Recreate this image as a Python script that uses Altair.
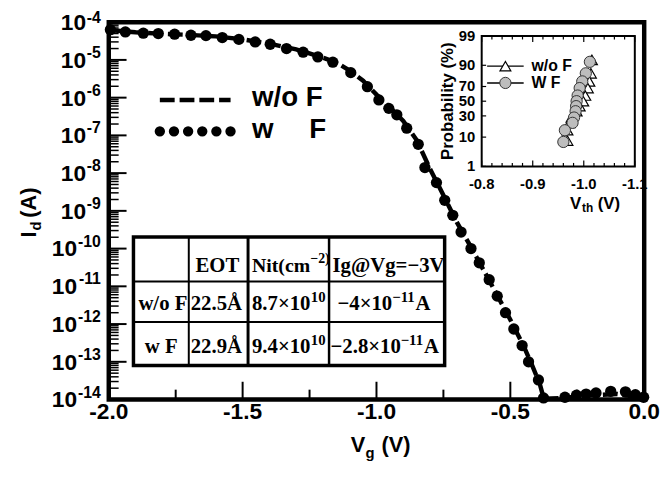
import altair as alt
import pandas as pd
from statistics import NormalDist

# ---------------- main Id-Vg data ----------------
vg_wF = [-1.994, -1.938, -1.871, -1.815, -1.754, -1.693, -1.637, -1.576, -1.514, -1.453,
         -1.397, -1.336, -1.274, -1.219, -1.163, -1.096, -1.034, -0.991, -0.954, -0.924,
         -0.887, -0.844, -0.819, -0.776, -0.745, -0.715, -0.684, -0.647, -0.616, -0.579,
         -0.549, -0.518, -0.487, -0.456, -0.432, -0.395, -0.376, -0.296, -0.253, -0.217,
         -0.180, -0.125, -0.070, -0.033, -0.002]
id_wF = [6.3e-5, 5.5e-5, 5.1e-5, 5.0e-5, 4.8e-5, 4.5e-5, 4.4e-5, 3.9e-5, 3.5e-5, 3.0e-5,
         2.6e-5, 2.0e-5, 1.6e-5, 1.2e-5, 8.7e-6, 4.6e-6, 1.95e-6, 8.7e-7, 5.2e-7, 3.5e-7,
         1.55e-7, 5.8e-8, 1.4e-8, 5.6e-9, 1.9e-9, 7.6e-10, 2.75e-10, 1.0e-10, 4.2e-11, 1.5e-11,
         5.5e-12, 2.0e-12, 7.4e-13, 2.7e-13, 1.0e-13, 3.3e-14, 1.1e-14, 1.15e-14, 1.3e-14, 1.4e-14,
         1.5e-14, 1.65e-14, 1.6e-14, 1.35e-14, 1.15e-14]

vg_woF = [-2.00, -1.90, -1.80, -1.70, -1.60, -1.50, -1.40, -1.30, -1.20, -1.15, -1.10,
          -1.05, -1.00, -0.95, -0.90, -0.85, -0.80, -0.75, -0.70, -0.65, -0.60, -0.55,
          -0.50, -0.45, -0.42, -0.39, -0.375, -0.30, -0.20, -0.10, 0.00]
id_woF = [6.2e-5, 5.4e-5, 4.9e-5, 4.6e-5, 4.2e-5, 3.5e-5, 2.7e-5, 1.9e-5, 1.15e-5, 8.5e-6, 5.2e-6,
          2.8e-6, 1.2e-6, 5.5e-7, 2.4e-7, 7.5e-8, 1.3e-8, 2.6e-9, 5.0e-10, 1.2e-10, 2.7e-11, 6.0e-12,
          1.3e-12, 2.6e-13, 8.5e-14, 2.6e-14, 1.05e-14, 1.1e-14, 1.3e-14, 1.4e-14, 1.1e-14]

# axis ticks / labels
y_major = [1e-4, 1e-5, 1e-6, 1e-7, 1e-8, 1e-9, 1e-10, 1e-11, 1e-12, 1e-13, 1e-14]
y_base = ["10"] * 11
y_exp = ["-4", "-5", "-6", "-7", "-8", "-9", "-10", "-11", "-12", "-13", "-14"]
y_minor = [m * 10.0 ** e for e in range(-14, -4) for m in range(2, 10)]
x_major = [-2.0, -1.5, -1.0, -0.5, 0.0]
x_labels = ["-2.0", "-1.5", "-1.0", "-0.5", "0.0"]
x_minor = [-1.75, -1.25, -0.75, -0.25]

# ---------------- inset (probability plot) ----------------
vth_woF = [-1.016, -1.014, -1.011, -1.008, -1.003, -0.999, -0.992, -0.986, -0.976, -0.972, -0.968, -0.968]
p_woF = [93, 84, 76, 68, 58, 50, 43, 36, 28, 22, 15, 8]
vth_wF = [-1.012, -1.004, -0.997, -0.992, -0.988, -0.986, -0.985, -0.984, -0.981, -0.978, -0.963, -0.960]
p_wF = [92, 84, 76, 68, 58, 50, 43, 36, 28, 22, 15, 7.3]
ix_major = [-0.8, -0.9, -1.0, -1.1]
ix_labels = ["-0.8", "-0.9", "-1.0", "-1.1"]
ix_minor = [-0.82, -0.84, -0.86, -0.88, -0.92, -0.94, -0.96, -0.98,
            -1.02, -1.04, -1.06, -1.08]
ip_vals = [1, 10, 30, 50, 70, 90, 99]
ip_labels = ["1", "10", "30", "50", "70", "90", "99"]

# ---------------- table (text, superscript, trailing text) ----------------
table_main = [["", "EOT", "Nit(cm", "Ig@Vg=−3V"],
              ["w/o F", "22.5Å", "8.7×10", "−4×10"],
              ["w F", "22.9Å", "9.4×10", "−2.8×10"]]
table_sup = [["", "", "−2)", ""],
             ["", "", "10", "−11"],
             ["", "", "10", "−11"]]
table_tail = [["", "", "", ""],
              ["", "", "", "A"],
              ["", "", "", "A"]]

# =====================================================
W, H = 542, 382
SANS = "Liberation Sans"
SERIF = "Liberation Serif"
dummy = alt.Data(values=[{"a": 0}])

xs = alt.Scale(domain=[-2.0, 0.0], nice=False, zero=False)
ys = alt.Scale(type="log", domain=[1e-14, 1e-4], nice=False)


def X(f):
    return alt.X(f, scale=xs, axis=None)


def Y(f):
    return alt.Y(f, scale=ys, axis=None)


def T(s, x, y, size, font=SANS, align="left", baseline="middle", angle=None):
    kw = dict(text=s, fontSize=size, font=font, fontWeight="bold", color="black",
              align=align, baseline=baseline)
    if angle is not None:
        kw["angle"] = angle
    return alt.Chart(dummy).mark_text(**kw).encode(x=alt.value(x), y=alt.value(y))


def HR(x1, x2, y, w=2, **kw):
    return alt.Chart(dummy).mark_rule(color="black", strokeWidth=w, **kw).encode(
        x=alt.value(x1), x2=alt.value(x2), y=alt.value(y))


def VR(x, y1, y2, w=2):
    return alt.Chart(dummy).mark_rule(color="black", strokeWidth=w).encode(
        x=alt.value(x), y=alt.value(y1), y2=alt.value(y2))


df_w = pd.DataFrame({"vg": vg_wF, "id": id_wF})
df_wo = pd.DataFrame({"vg": vg_woF, "id": id_woF})

main_layers = []
main_layers.append(alt.Chart(df_wo).mark_line(color="black", strokeWidth=4.5, strokeDash=[15, 5]).encode(
    x=X("vg:Q"), y=Y("id:Q")))
main_layers.append(alt.Chart(df_w).mark_circle(color="black", size=130, opacity=1).encode(
    x=X("vg:Q"), y=Y("id:Q")))

# ticks (inward)
main_layers.append(alt.Chart(pd.DataFrame({"v": y_major})).mark_rule(color="black", strokeWidth=2).encode(
    y=Y("v:Q"), x=alt.value(0), x2=alt.value(18)))
main_layers.append(alt.Chart(pd.DataFrame({"v": y_minor})).mark_rule(color="black", strokeWidth=1.5).encode(
    y=Y("v:Q"), x=alt.value(0), x2=alt.value(10)))
main_layers.append(alt.Chart(pd.DataFrame({"v": x_major})).mark_rule(color="black", strokeWidth=2).encode(
    x=X("v:Q"), y=alt.value(H), y2=alt.value(H - 18)))
main_layers.append(alt.Chart(pd.DataFrame({"v": x_minor})).mark_rule(color="black", strokeWidth=2).encode(
    x=X("v:Q"), y=alt.value(H), y2=alt.value(H - 10)))

# y tick labels 10^n
ylab = pd.DataFrame({"v": y_major, "b": y_base, "e": y_exp})
base_txt = dict(font=SANS, fontWeight="bold", fontSize=23, align="right", baseline="alphabetic", dy=8,
                color="black")
exp_txt = dict(font=SANS, fontWeight="bold", fontSize=16, align="right", baseline="alphabetic", color="black")
main_layers.append(alt.Chart(ylab).transform_filter("length(datum.e) == 2").mark_text(**base_txt).encode(
    y=Y("v:Q"), x=alt.value(-23), text="b:N"))
main_layers.append(alt.Chart(ylab).transform_filter("length(datum.e) == 3").mark_text(**base_txt).encode(
    y=Y("v:Q"), x=alt.value(-32), text="b:N"))
main_layers.append(alt.Chart(ylab).transform_filter("datum.v < 5e-5").mark_text(dy=-2, **exp_txt).encode(
    y=Y("v:Q"), x=alt.value(-8), text="e:N"))
main_layers.append(alt.Chart(ylab).transform_filter("datum.v > 5e-5").mark_text(dy=1, **exp_txt).encode(
    y=Y("v:Q"), x=alt.value(-8), text="e:N"))

# x tick labels
main_layers.append(alt.Chart(pd.DataFrame({"v": x_major, "t": x_labels})).mark_text(
    font=SANS, fontWeight="bold", fontSize=23, align="center", baseline="middle", color="black").encode(
    x=X("v:Q"), y=alt.value(H + 13), text="t:N"))

# axis titles
main_layers += [T("V", 245, 435, 22, baseline="alphabetic"),
                T("g", 260, 441, 15, baseline="alphabetic"),
                T("(V)", 276, 435, 22, baseline="alphabetic"),
                T("I", -74, 218, 22, baseline="alphabetic", angle=270),
                T("d", -69, 211, 15, baseline="alphabetic", angle=270),
                T("(A)", -74, 198, 22, baseline="alphabetic", angle=270)]

# main legend
main_layers.append(HR(51.7, 123.3, 78.8, w=4.5, strokeDash=[15, 5]))
main_layers.append(HR(51.7, 123.4, 110.5, w=10.5, strokeDash=[0.01, 14.3], strokeCap="round"))
main_layers += [T("w/o F", 145, 76.5, 28), T("w", 145, 109, 28), T("F", 203, 109, 28)]

# table
tx = [25, 81, 141, 223, 340]
ty = [217.5, 262.5, 303.5, 347.5]
main_layers.append(alt.Chart(dummy).mark_rect(fill="white", stroke="black", strokeWidth=3.5).encode(
    x=alt.value(tx[0]), x2=alt.value(tx[-1]), y=alt.value(ty[0]), y2=alt.value(ty[-1])))
main_x = [[None, 110, 145, 226.5], [30, 83, 145, 231.5], [36.5, 83, 145, 224.5]]
main_size = [[21, 21, 20, 21], [21, 21, 21, 21], [21, 21, 21, 21]]
sup_x = [[None, None, 204, None], [None, None, 204.5, 287], [None, None, 204.5, 295.5]]
sup_size = [[14, 14, 14, 14], [15, 15, 15, 15], [15, 15, 15, 15]]
tail_x = [[None, None, None, None], [None, None, None, 310.5], [None, None, None, 319]]
row_y = [246.5, 285.5, 328.5]
for r in range(3):
    for c in range(4):
        s = table_main[r][c]
        if s:
            al = "center" if (r == 0 and c == 1) else "left"
            main_layers.append(T(s, main_x[r][c], row_y[r], main_size[r][c], font=SERIF, align=al))
        if table_sup[r][c]:
            main_layers.append(T(table_sup[r][c], sup_x[r][c], row_y[r] - 7, sup_size[r][c], font=SERIF))
        if table_tail[r][c]:
            main_layers.append(T(table_tail[r][c], tail_x[r][c], row_y[r], 21, font=SERIF))
for cx, w in [(81, 2), (141, 3), (223, 2.5)]:
    main_layers.append(VR(cx, ty[0], ty[-1], w))
for cy in ty[1:3]:
    main_layers.append(HR(tx[0], tx[-1], cy, w=2))

# ---------------- inset layers ----------------
zlo, zhi = NormalDist().inv_cdf(0.01), NormalDist().inv_cdf(0.99)
ixs = alt.Scale(domain=[-0.8, -1.1], range=[377.5, 532.5], nice=False, zero=False)
iys = alt.Scale(domain=[zlo, zhi], range=[146, 14], nice=False, zero=False)


def IX(f):
    return alt.X(f, scale=ixs, axis=None)


def IY(f):
    return alt.Y(f, scale=iys, axis=None)


inset_layers = []
inset_layers.append(alt.Chart(dummy).mark_rect(fill="white", stroke="black", strokeWidth=2).encode(
    x=alt.value(377.5), x2=alt.value(532.5), y=alt.value(14), y2=alt.value(146)))
for vals, ln in [(ix_major, 6), (ix_minor, 3.5)]:
    d = pd.DataFrame({"v": vals})
    inset_layers.append(alt.Chart(d).mark_rule(color="black", strokeWidth=1.2).encode(
        x=IX("v:Q"), y=alt.value(14), y2=alt.value(14 + ln)))
    inset_layers.append(alt.Chart(d).mark_rule(color="black", strokeWidth=1.2).encode(
        x=IX("v:Q"), y=alt.value(146), y2=alt.value(146 - ln)))
dp = pd.DataFrame({"p": ip_vals, "t": ip_labels})
inset_layers.append(alt.Chart(dp).transform_calculate(z="quantileNormal(datum.p/100)").mark_rule(
    color="black", strokeWidth=1.2).encode(y=IY("z:Q"), x=alt.value(377.5), x2=alt.value(382)))
inset_layers.append(alt.Chart(dp).transform_calculate(z="quantileNormal(datum.p/100)").mark_text(
    font=SANS, fontWeight="bold", fontSize=15, align="right", baseline="middle", color="black").encode(
    y=IY("z:Q"), x=alt.value(371), text="t:N"))
inset_layers.append(alt.Chart(pd.DataFrame({"v": ix_major, "t": ix_labels})).mark_text(
    font=SANS, fontWeight="bold", fontSize=15, align="center", baseline="middle", color="black").encode(
    x=IX("v:Q"), y=alt.value(163.5), text="t:N"))

inset_layers.append(alt.Chart(pd.DataFrame({"v": vth_woF, "p": p_woF})).transform_calculate(
    z="quantileNormal(datum.p/100)").mark_point(
    shape="triangle-up", filled=True, fill="white", stroke="black", strokeWidth=1.2, size=121, opacity=1).encode(
    x=IX("v:Q"), y=IY("z:Q")))
inset_layers.append(alt.Chart(pd.DataFrame({"v": vth_wF, "p": p_wF})).transform_calculate(
    z="quantileNormal(datum.p/100)").mark_point(
    shape="circle", filled=True, fill="#bdbdbd", stroke="#333333", strokeWidth=1, size=130, opacity=1).encode(
    x=IX("v:Q"), y=IY("z:Q")))

# inset legend
inset_layers.append(HR(383, 420, 44.5, w=1.5))
inset_layers.append(HR(383, 420, 61.5, w=1.5))
inset_layers.append(alt.Chart(dummy).mark_point(
    shape="triangle-up", filled=True, fill="white", stroke="black", strokeWidth=1.2, size=121, opacity=1).encode(
    x=alt.value(401.5), y=alt.value(44.5)))
inset_layers.append(alt.Chart(dummy).mark_point(
    shape="circle", filled=True, fill="#bdbdbd", stroke="#333333", strokeWidth=1, size=130, opacity=1).encode(
    x=alt.value(401.5), y=alt.value(61.5)))
inset_layers += [T("w/o F", 428, 44.5, 16), T("W F", 428, 61.5, 16)]

# inset titles
inset_layers += [T("Probability (%)", 343, 80, 17, align="center", baseline="middle", angle=270),
                 T("V", 467, 189, 17, baseline="alphabetic"),
                 T("th", 479, 192, 12, baseline="alphabetic"),
                 T("(V)", 495, 189, 17, baseline="alphabetic")]

main = alt.layer(*main_layers)
inset = alt.layer(*inset_layers)

chart = alt.layer(main, inset).resolve_scale(x="independent", y="independent").properties(
    width=W, height=H,
    autosize=alt.AutoSizeParams(type="none"),
    padding={"left": 102, "top": 11.5, "right": 16, "bottom": 70},
).configure_view(stroke="black", strokeWidth=4.5)

chart.save("out.html", embed_options={"renderer": "svg", "actions": False})
